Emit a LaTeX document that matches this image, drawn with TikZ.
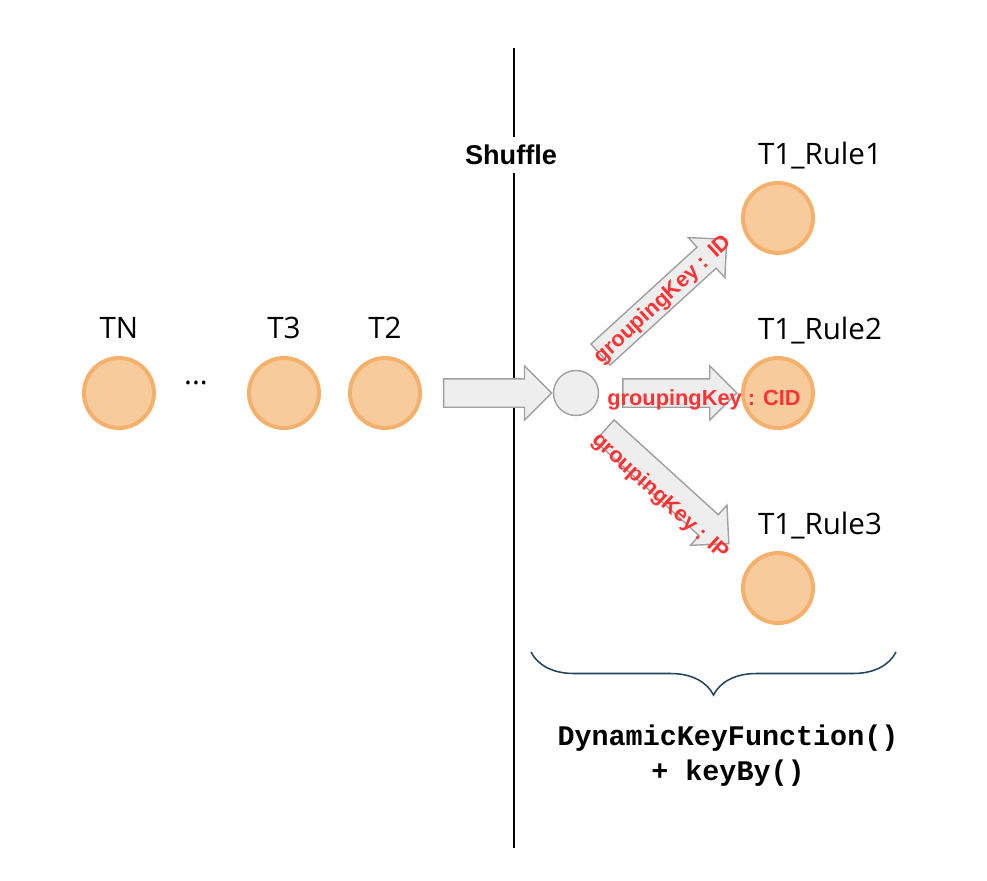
\documentclass[tikz,border=0pt]{standalone}
\usepackage{fontspec}
\setmainfont{Open Sans}
\newfontfamily\arialfont{Liberation Sans}
\newfontfamily\codefont{Liberation Mono}
\usetikzlibrary{positioning,shapes.arrows,decorations.pathreplacing}
\definecolor{taskfill}{HTML}{F8CB9D}
\definecolor{taskdraw}{HTML}{F5B06B}
\definecolor{arrowfill}{HTML}{EEEEEE}
\definecolor{arrowdraw}{HTML}{A0A0A0}
\definecolor{keyred}{HTML}{FF3333}
\definecolor{bracecol}{HTML}{23445D}

\begin{document}
\begin{tikzpicture}[x=0.025cm, y=-0.025cm, node distance=2cm,
	main/.style = {circle, minimum size=1.75cm, inner sep=0pt, fill=taskfill, draw=taskdraw, line width=2.8pt},
	hub/.style = {circle, minimum size=1.125cm, inner sep=0pt, fill=arrowfill, draw=arrowdraw, line width=1pt},
	tasklabel/.style = {font=\fontsize{21}{25}\selectfont, inner sep=0pt, anchor=base}]
	\tikzset{edge/.style = {single arrow, single arrow head extend=0.325cm, minimum height=#1, inner xsep=0pt, inner ysep=0.3375cm, fill=arrowfill, draw=arrowdraw, line width=1pt, anchor=tail}}
	\tikzset{key/.style = {font=\arialfont\bfseries\fontsize{15.5}{18}\selectfont, text=keyred, inner sep=0pt}}
	\useasboundingbox (0,0) rectangle (987,881);
	
		% shuffle line
		\coordinate (top) at (514,48);
		\coordinate (bottom) at (514,848);
		\draw[line width=1.4pt] (top) -- (bottom);
		\node[font=\arialfont\bfseries\fontsize{19.3}{23}\selectfont, fill=white, inner sep=0pt, minimum height=0.875cm] (s) at (511,155) {Shuffle};
		
		% tasks
		\node[main] (3) at (385,393) {};
		\node[main] (2) [left of=3, node distance=2.525cm] {};
		\node[main] (1) [left of=2, node distance=4.125cm] {};
		\node[tasklabel] (dots) at (196,384) {...};
		\node[tasklabel] (l1) at ([yshift=0.45cm]1.north) {TN};
		\node[tasklabel] (l2) at ([yshift=0.45cm]2.north) {T3};
		\node[tasklabel] (l3) at ([yshift=0.45cm]3.north) {T2};
		
		\node[hub] (4) at (576,393) {};
		
		\node[main] (6) at (778,393) {};
		\node[main] (5) [above of=6, node distance=4.375cm] {};
		\node[main] (7) [below of=6, node distance=4.875cm] {};
		\node[tasklabel] (l5) at ([xshift=1.05cm, yshift=0.42cm]5.north) {T1\_Rule1};
		\node[tasklabel] (l6) at ([xshift=1.05cm, yshift=0.42cm]6.north) {T1\_Rule2};
		\node[tasklabel] (l7) at ([xshift=1.05cm, yshift=0.42cm]7.north) {T1\_Rule3};
		
		% block arrows
		\node[edge=2.7cm] (a1) at ([xshift=0.525cm]3.east) {};
		\node[edge=2.85cm] (a2) at ([xshift=0.575cm]4.east) {};
		\node[edge=4.27cm, rotate=42.4] (a3) at (600,355) {};
		\node[edge=4.2cm, rotate=-42.3] (a4) at (604,430) {};
		
		\node[key, rotate=42.4] (k1) at (663,300) {groupingKey : ID};
		\node[key] (k2) at (704,400) {groupingKey : CID};
		\node[key, rotate=-42.3] (k3) at (660,497) {groupingKey : IP};
		
		% brace
		\coordinate (bl) at (531,652);
		\coordinate (br) at (896,652);
		\draw[bracecol, line width=1.1pt, decorate, decoration={brace, mirror, amplitude=1.075cm}] (bl) -- (br);
		\node[font=\codefont\bfseries\fontsize{20.2}{24.9}\selectfont, align=center, inner sep=0pt] (f) at (728,756) {DynamicKeyFunction()\\+ keyBy()};
	\end{tikzpicture}
\end{document}
